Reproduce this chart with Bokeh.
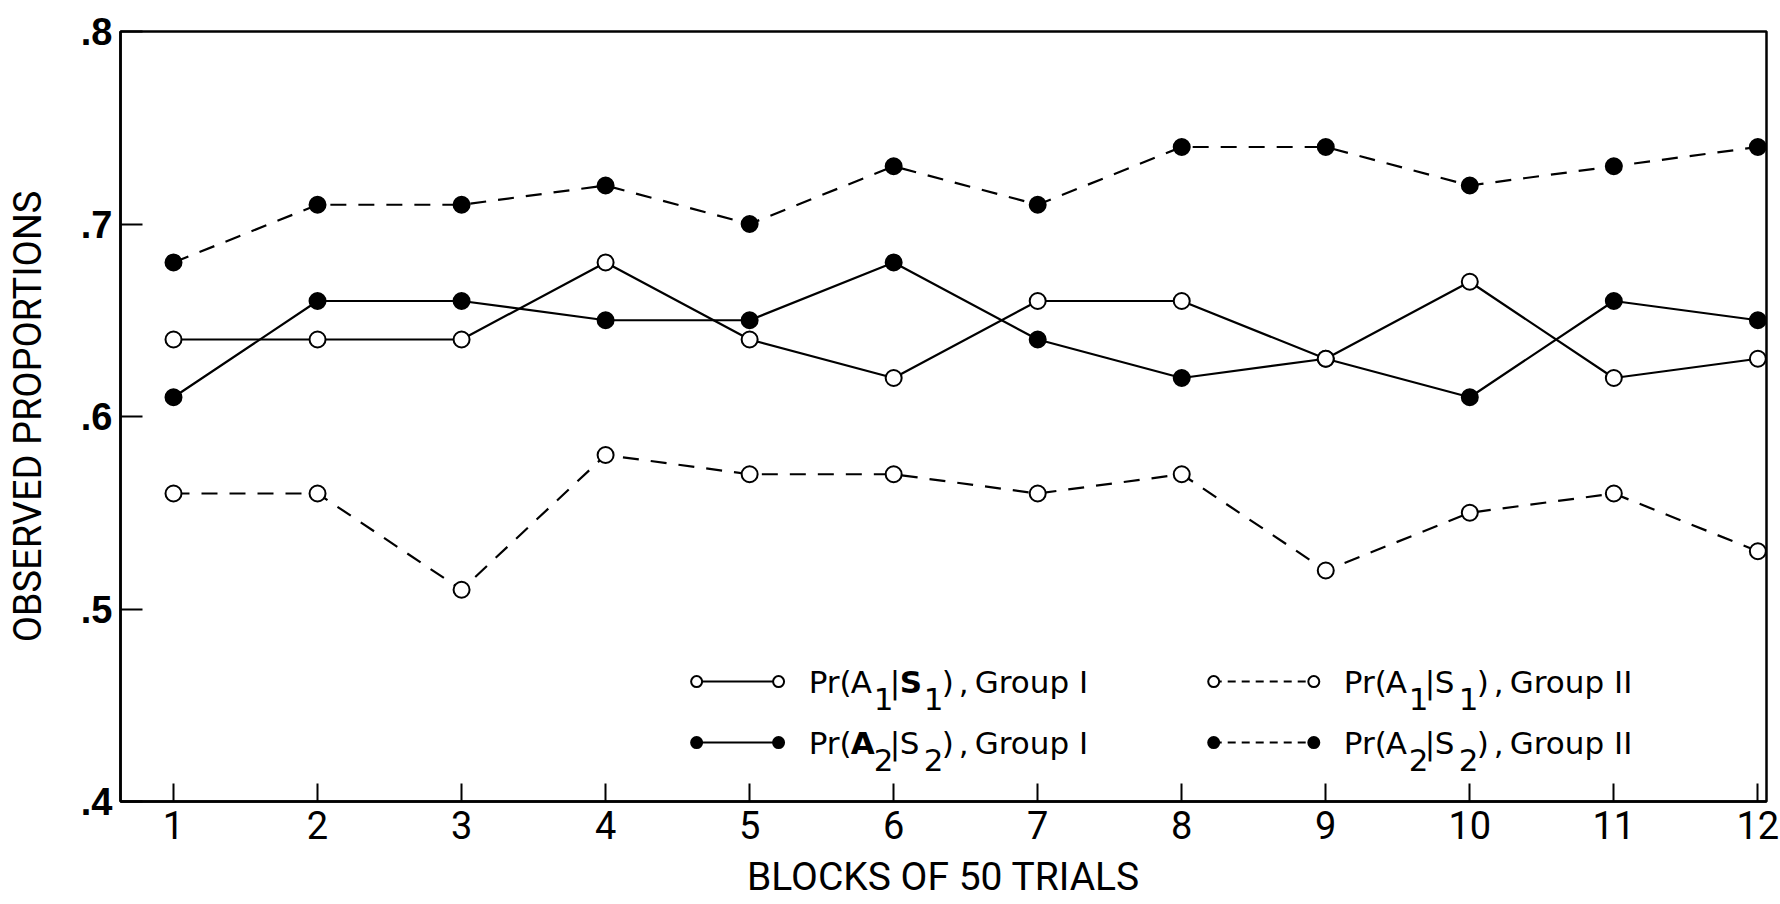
from bokeh.plotting import figure
from bokeh.models import Range1d, FixedTicker
from bokeh.core.properties import value
from bokeh.embed import file_html
from bokeh.resources import INLINE

# ---------------- data ----------------
blocks = [1, 2, 3, 4, 5, 6, 7, 8, 9, 10, 11, 12]
g1_a1_s1 = [0.64, 0.64, 0.64, 0.68, 0.64, 0.62, 0.66, 0.66, 0.63, 0.67, 0.62, 0.63]
g1_a2_s2 = [0.61, 0.66, 0.66, 0.65, 0.65, 0.68, 0.64, 0.62, 0.63, 0.61, 0.66, 0.65]
g2_a1_s1 = [0.56, 0.56, 0.51, 0.58, 0.57, 0.57, 0.56, 0.57, 0.52, 0.55, 0.56, 0.53]
g2_a2_s2 = [0.68, 0.71, 0.71, 0.72, 0.70, 0.73, 0.71, 0.74, 0.74, 0.72, 0.73, 0.74]
y_ticks = [0.4, 0.5, 0.6, 0.7, 0.8]
y_tick_labels = [".4", ".5", ".6", ".7", ".8"]
x_tick_labels = ["1", "2", "3", "4", "5", "6", "7", "8", "9", "10", "11", "12"]
x_title = "BLOCKS OF 50 TRIALS"
y_title = "OBSERVED PROPORTIONS"
legend_group = ["Group I", "Group II"]
legend_sub = ["1", "2"]

AXIS_FONT = "Roboto"
LEG_FONT = "DejaVu Sans"

p = figure(width=1780, height=904,
           x_range=Range1d(0.632, 12.06), y_range=Range1d(0.4, 0.8),
           output_backend="svg", toolbar_location=None,
           min_border_left=120, min_border_right=14,
           min_border_top=31, min_border_bottom=103)

p.grid.visible = False
p.outline_line_color = "black"
p.outline_line_width = 2.5
p.background_fill_color = "white"
p.border_fill_color = "white"

# axes
xa = p.xaxis[0]
xa.ticker = FixedTicker(ticks=blocks)
xa.major_label_overrides = {b: lbl for b, lbl in zip(blocks, x_tick_labels)}
xa.minor_tick_line_color = None
xa.major_tick_in = 18
xa.major_tick_out = 0
xa.major_tick_line_width = 2
xa.axis_line_width = 2.5
xa.major_label_text_font = AXIS_FONT
xa.major_label_text_font_size = "38px"
xa.major_label_text_color = "black"
xa.major_label_standoff = 9
xa.axis_label = x_title
xa.axis_label_text_font = AXIS_FONT
xa.axis_label_text_font_size = "39px"
xa.axis_label_text_font_style = "normal"
xa.axis_label_text_color = "black"
xa.axis_label_standoff = 12

ya = p.yaxis[0]
ya.ticker = FixedTicker(ticks=y_ticks)
ya.major_label_overrides = {t: lbl for t, lbl in zip(y_ticks, y_tick_labels)}
ya.minor_tick_line_color = None
ya.major_tick_in = 22
ya.major_tick_out = 0
ya.major_tick_line_width = 2
ya.axis_line_width = 2.5
ya.major_label_text_font = "Liberation Sans"
ya.major_label_text_font_style = "bold"
ya.major_label_text_font_size = "38px"
ya.major_label_text_color = "black"
ya.major_label_standoff = 8
ya.axis_label = y_title
ya.axis_label_text_font = AXIS_FONT
ya.axis_label_text_font_size = "38px"
ya.axis_label_text_font_style = "normal"
ya.axis_label_text_color = "black"
ya.axis_label_standoff = 28

# ---------------- series ----------------
LW = 2.2
DASH = "16 12"
MS = 16

p.line(blocks, g2_a2_s2, line_color="black", line_width=LW, line_dash=DASH)
p.line(blocks, g2_a1_s1, line_color="black", line_width=LW, line_dash=DASH)
p.line(blocks, g1_a2_s2, line_color="black", line_width=LW)
p.line(blocks, g1_a1_s1, line_color="black", line_width=LW)

p.scatter(blocks, g2_a2_s2, size=MS, fill_color="black", line_color="black", line_width=2)
p.scatter(blocks, g2_a1_s1, size=MS, fill_color="white", line_color="black", line_width=2)
p.scatter(blocks, g1_a2_s2, size=MS, fill_color="black", line_color="black", line_width=2)
p.scatter(blocks, g1_a1_s1, size=MS, fill_color="white", line_color="black", line_width=2)

# ---------------- legend (drawn inside the frame) ----------------
row_y = [0.4623, 0.4306]
col_marker = [(4.632, 5.201), (8.222, 8.917)]
col_text = [5.41, 9.125]
LFS = "31px"


def legend_entry(col, row, filled, dashed, bold_piece):
    x0, x1 = col_marker[col]
    y = row_y[row]
    p.line([x0, x1], [y, y], line_color="black", line_width=2,
           line_dash=("8 6" if dashed else "solid"))
    p.scatter([x0, x1], [y, y], size=11,
              fill_color=("black" if filled else "white"),
              line_color="black", line_width=2)
    sub = legend_sub[row]
    pieces = [
        ("Pr(", 0, 0, "normal"),
        ("A", 42, 0, "bold" if bold_piece == "A" else "normal"),
        (sub, 65, 17, "normal"),
        ("|", 81, 0, "normal"),
        ("S", 91, 0, "bold" if bold_piece == "S" else "normal"),
        (sub, 115, 17, "normal"),
        (")", 133, 0, "normal"),
        (",", 150, 0, "normal"),
        (legend_group[col], 166, 0, "normal"),
    ]
    for txt, dx, dy, style in pieces:
        p.text([col_text[col]], [y], text=[txt], x_offset=dx, y_offset=dy,
               text_font=value(LEG_FONT), text_font_size=LFS,
               text_font_style=style, text_color="black",
               text_align="left", text_baseline="middle")


legend_entry(0, 0, filled=False, dashed=False, bold_piece="S")
legend_entry(0, 1, filled=True, dashed=False, bold_piece="A")
legend_entry(1, 0, filled=False, dashed=True, bold_piece=None)
legend_entry(1, 1, filled=True, dashed=True, bold_piece=None)

open("out.html", "w").write(file_html(p, INLINE))
